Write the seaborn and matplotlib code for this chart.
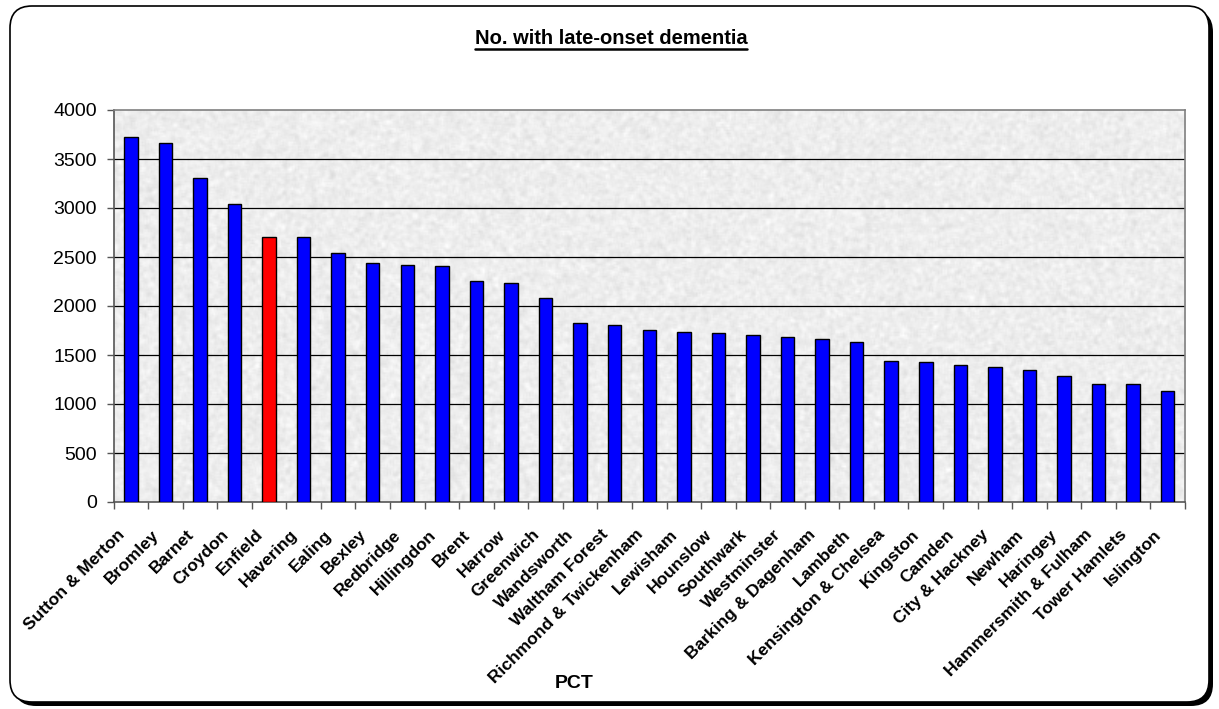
import numpy as np
import pandas as pd
import matplotlib
matplotlib.use("Agg")
import matplotlib.pyplot as plt
import matplotlib.transforms as mtransforms
from matplotlib.patches import FancyBboxPatch
from matplotlib.lines import Line2D
import seaborn as sns

# Primary Care Trusts, ordered by count
pcts = [
    "Sutton & Merton", "Bromley", "Barnet", "Croydon", "Enfield", "Havering",
    "Ealing", "Bexley", "Redbridge", "Hillingdon", "Brent", "Harrow",
    "Greenwich", "Wandsworth", "Waltham Forest", "Richmond & Twickenham",
    "Lewisham", "Hounslow", "Southwark", "Westminster", "Barking & Dagenham",
    "Lambeth", "Kensington & Chelsea", "Kingston", "Camden", "City & Hackney",
    "Newham", "Haringey", "Hammersmith & Fulham", "Tower Hamlets", "Islington",
]
late_onset = [
    3720, 3668, 3305, 3045, 2702, 2702,
    2545, 2443, 2422, 2408, 2255, 2238,
    2085, 1823, 1806, 1755,
    1738, 1721, 1704, 1684, 1668,
    1633, 1442, 1425, 1398, 1374,
    1344, 1289, 1204, 1204, 1133,
]
highlight = "Enfield"
y_ticks = [0, 500, 1000, 1500, 2000, 2500, 3000, 3500, 4000]

sns.set_theme(style="white")
plt.rcParams["font.family"] = ["Liberation Sans", "DejaVu Sans"]
plt.rcParams["text.color"] = "black"
plt.rcParams["xtick.color"] = "black"
plt.rcParams["ytick.color"] = "black"

W, H, DPI = 1219, 709, 100
fig = plt.figure(figsize=(W / DPI, H / DPI), dpi=DPI, facecolor="white")

# rounded chart-area border with a dark drop edge on the right and bottom
px = mtransforms.IdentityTransform()
bx0, by_top, bx1, by_bot = 10, 6, 1209, 702
shadow = FancyBboxPatch((bx0 + 4, H - by_bot - 4), bx1 - bx0, by_bot - by_top,
                        boxstyle="round,pad=0,rounding_size=22",
                        transform=px, facecolor="black", edgecolor="black",
                        linewidth=0, zorder=-3)
frame = FancyBboxPatch((bx0, H - by_bot), bx1 - bx0, by_bot - by_top,
                       boxstyle="round,pad=0,rounding_size=22",
                       transform=px, facecolor="white", edgecolor="black",
                       linewidth=1.2, zorder=-2)
fig.patches.extend([shadow, frame])

ax_l, ax_r, ax_t, ax_b = 113.5, 1185, 110, 502
ax = fig.add_axes([ax_l / W, 1 - ax_b / H, (ax_r - ax_l) / W, (ax_b - ax_t) / H])
ax.set_zorder(1)
ax.set_facecolor("#efefef")

# granite-style plot-area fill
rng = np.random.default_rng(7)
tex = rng.normal(0, 1, (260, 700))
k = np.ones(3) / 3
tex = np.apply_along_axis(lambda r: np.convolve(r, k, mode="same"), 1, tex)
tex = np.apply_along_axis(lambda c: np.convolve(c, k, mode="same"), 0, tex)
tex = 0.93 + 0.05 * tex
ax.imshow(np.clip(tex, 0.78, 1.0), cmap="gray", vmin=0, vmax=1,
          extent=[0, 1, 0, 1], transform=ax.transAxes, aspect="auto",
          interpolation="bilinear", zorder=0)

df = pd.DataFrame({"pct": pcts, "count": late_onset})
palette = {p: ("#FF0000" if p == highlight else "#0000FF") for p in pcts}
sns.barplot(data=df, x="pct", y="count", hue="pct", palette=palette,
            width=0.39, saturation=1, edgecolor="black", linewidth=1.0,
            legend=False, ax=ax, zorder=3)

ax.set_xlim(-0.5, len(pcts) - 0.5)
ax.set_ylim(0, 4000)
ax.set_yticks(y_ticks)
ax.set_yticklabels([str(v) for v in y_ticks], fontsize=14)
for v in y_ticks[1:-1]:
    ax.axhline(v, color="black", linewidth=0.9, zorder=2)

# category labels without marks; marks sit between categories
ax.set_xticks(range(len(pcts)))
ax.set_xticklabels(pcts, fontsize=12.5, fontweight="bold", rotation=45,
                   ha="right", va="top", rotation_mode="anchor")
ax.set_xticks(np.arange(-0.5, len(pcts), 1.0), minor=True)
ax.tick_params(axis="x", which="major", length=0, pad=18)
ax.tick_params(axis="x", which="minor", length=5, width=1, color="#555555",
               bottom=True)
ax.tick_params(axis="y", which="major", length=5, width=1, color="#555555",
               left=True, pad=7, labelcolor="black")
shift = mtransforms.ScaledTranslation(-10 / 72, 0, fig.dpi_scale_trans)
for lbl in ax.get_xticklabels():
    lbl.set_transform(lbl.get_transform() + shift)

for side in ["left", "right", "top", "bottom"]:
    ax.spines[side].set_visible(True)
    ax.spines[side].set_color("#808080")
    ax.spines[side].set_linewidth(1.2)
ax.spines["left"].set_color("#555555")
ax.spines["bottom"].set_color("#555555")
ax.set_xlabel("")
ax.set_ylabel("")

# titles
title = fig.text(611 / W, 1 - 38 / H, "No. with late-onset dementia",
                 ha="center", va="center", fontsize=14.5, fontweight="bold")
fig.text(574 / W, 1 - 683 / H, "PCT", ha="center", va="center",
         fontsize=14, fontweight="bold")

fig.canvas.draw()
bb = title.get_window_extent(renderer=fig.canvas.get_renderer())
uy = H - 49
fig.add_artist(Line2D([bb.x0, bb.x1], [uy, uy], transform=px,
                      color="black", linewidth=1.8))

fig.savefig("out.png", dpi=DPI, facecolor="white")
